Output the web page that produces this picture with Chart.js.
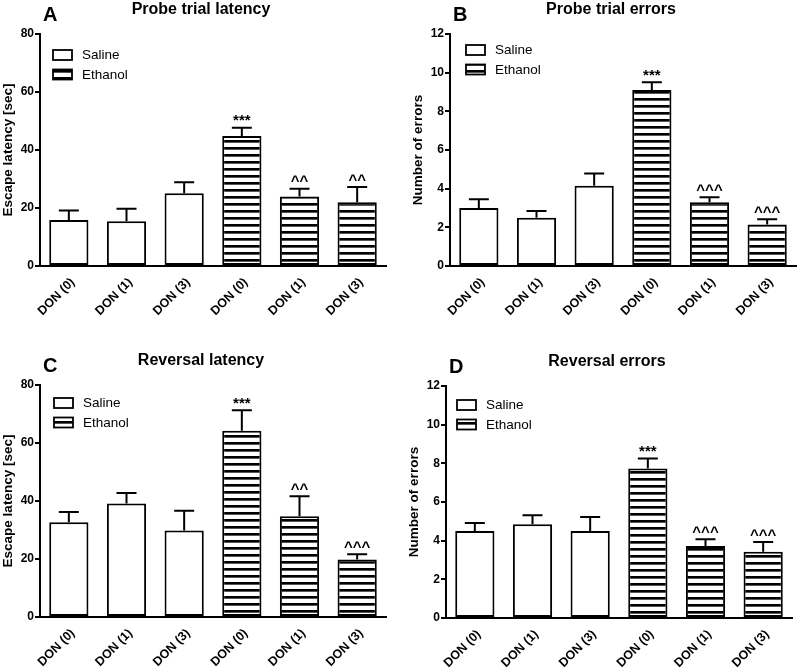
<!DOCTYPE html>
<html>
<head>
<meta charset="utf-8">
<script src="https://cdn.jsdelivr.net/npm/chart.js@4.4.0/dist/chart.umd.min.js"></script>
<style>
  html, body { margin: 0; padding: 0; background: #fff; width: 798px; height: 669px; overflow: hidden; position: relative; }
  canvas { position: absolute; }
</style>
</head>
<body>
<canvas id="panel_a" width="390" height="335" style="left:0px;top:0px"></canvas>
<canvas id="panel_b" width="390" height="335" style="left:410px;top:0px"></canvas>
<canvas id="panel_c" width="390" height="335" style="left:0px;top:351px"></canvas>
<canvas id="panel_d" width="390" height="335" style="left:406px;top:352px"></canvas>
<script>
// data
const categories = ["DON (0)", "DON (1)", "DON (3)", "DON (0)", "DON (1)", "DON (3)"];
const groups = ["Saline", "Saline", "Saline", "Ethanol", "Ethanol", "Ethanol"];

const probe_latency_mean = [15.9, 15.4, 25.1, 44.8, 24.0, 22.0];
const probe_latency_sem = [3.2, 4.3, 3.8, 2.9, 2.6, 5.2];
const probe_latency_marks = ["", "", "", "***", "^^", "^^"];

const probe_errors_mean = [3.0, 2.5, 4.15, 9.1, 3.3, 2.15];
const probe_errors_sem = [0.45, 0.35, 0.63, 0.4, 0.25, 0.27];
const probe_errors_marks = ["", "", "", "***", "^^^", "^^^"];

const reversal_latency_mean = [32.7, 39.1, 29.8, 64.2, 34.7, 19.8];
const reversal_latency_sem = [3.5, 3.7, 6.8, 7.1, 6.9, 1.8];
const reversal_latency_marks = ["", "", "", "***", "^^", "^^^"];

const reversal_errors_mean = [4.5, 4.85, 4.5, 7.73, 3.72, 3.43];
const reversal_errors_sem = [0.41, 0.46, 0.72, 0.52, 0.35, 0.5];
const reversal_errors_marks = ["", "", "", "***", "^^^", "^^^"];

const legend_labels = ["Saline", "Ethanol"];

const FONT = "'Liberation Sans', Arial, sans-serif";

function make_stripes(ctx) {
  const tile = document.createElement("canvas");
  tile.width = 8;
  tile.height = 7;
  const g = tile.getContext("2d");
  g.fillStyle = "#fff";
  g.fillRect(0, 0, 8, 7);
  g.fillStyle = "#000";
  g.fillRect(0, 0, 8, 2);
  g.fillStyle = "#555";
  g.fillRect(0, 2, 8, 1);
  return ctx.createPattern(tile, "repeat");
}

// error bars, significance marks, panel letter, title and legend
const decor = {
  id: "decor",
  afterDatasetsDraw(chart, args, opts) {
    const { ctx, scales: { y } } = chart;
    const meta = chart.getDatasetMeta(0);
    ctx.save();
    ctx.strokeStyle = "#000";
    ctx.fillStyle = "#000";
    ctx.lineWidth = 2;
    opts.means.forEach((m, i) => {
      const bx = meta.data[i].x;
      const y_top = y.getPixelForValue(m);
      const y_err = y.getPixelForValue(m + opts.errors[i]);
      ctx.beginPath();
      ctx.moveTo(bx, y_top);
      ctx.lineTo(bx, y_err);
      ctx.moveTo(bx - 10, y_err);
      ctx.lineTo(bx + 10, y_err);
      ctx.stroke();
      if (opts.marks[i]) {
        ctx.font = "bold 15px " + FONT;
        ctx.textAlign = "center";
        ctx.textBaseline = "alphabetic";
        ctx.fillText(opts.marks[i], bx, y_err - 2.5);
      }
    });

    ctx.textBaseline = "middle";
    ctx.textAlign = "left";
    ctx.font = "bold 20px " + FONT;
    ctx.fillText(opts.letter, 43, 15);
    ctx.textAlign = "center";
    ctx.font = "bold 16px " + FONT;
    ctx.fillText(opts.title, 201, 10);

    const lx = opts.legend_at[0];
    const ly = opts.legend_at[1];
    ctx.font = "13.5px " + FONT;
    ctx.textAlign = "left";
    legend_labels.forEach((label, k) => {
      const by = ly + k * 19.5;
      ctx.fillStyle = k === 0 ? "#fff" : opts.stripes;
      ctx.fillRect(lx, by - 5, 19, 10);
      ctx.lineWidth = 1.8;
      ctx.strokeRect(lx, by - 5, 19, 10);
      ctx.fillStyle = "#000";
      ctx.fillText(label, lx + 29, by + 0.5);
    });
    ctx.restore();
  },
};

function draw_panel(id, cfg) {
  const canvas = document.getElementById(id);
  const ctx = canvas.getContext("2d");
  const stripes = make_stripes(ctx);
  const fills = groups.map((g) => (g === "Saline" ? "#fff" : stripes));

  return new Chart(ctx, {
    type: "bar",
    data: {
      labels: categories,
      datasets: [
        {
          data: cfg.means,
          backgroundColor: fills,
          borderColor: "#000",
          borderWidth: 2,
          borderSkipped: false,
          barPercentage: 0.68,
          categoryPercentage: 1,
        },
      ],
    },
    options: {
      responsive: false,
      animation: false,
      devicePixelRatio: 1,
      layout: { padding: { top: 34, right: 4, left: 0, bottom: 0 } },
      plugins: {
        legend: { display: false },
        tooltip: { enabled: false },
        decor: {
          means: cfg.means,
          errors: cfg.errors,
          marks: cfg.marks,
          letter: cfg.letter,
          title: cfg.title,
          legend_at: cfg.legend_at,
          stripes,
        },
      },
      scales: {
        x: {
          grid: { display: false, drawTicks: false },
          border: { display: true, color: "#000", width: 2 },
          ticks: {
            minRotation: 45,
            maxRotation: 45,
            color: "#000",
            padding: 9,
            labelOffset: 4,
            font: { family: FONT, size: 12.5, weight: "bold" },
          },
          afterFit(scale) {
            scale.height = 69;
          },
        },
        y: {
          min: 0,
          max: cfg.max,
          ticks: {
            stepSize: cfg.step,
            color: "#000",
            padding: 1,
            font: { family: FONT, size: 12, weight: "bold" },
          },
          grid: { display: true, drawOnChartArea: false, tickLength: 5, color: "#000", lineWidth: 2 },
          border: { display: true, color: "#000", width: 2 },
          title: {
            display: true,
            text: cfg.y_title,
            color: "#000",
            padding: 0,
            font: { family: FONT, size: 13.5, weight: "bold" },
          },
          afterFit(scale) {
            scale.width = 40;
          },
        },
      },
    },
    plugins: [decor],
  });
}

draw_panel("panel_a", {
  letter: "A", title: "Probe trial latency", y_title: "Escape latency [sec]",
  max: 80, step: 20, legend_at: [53, 55],
  means: probe_latency_mean, errors: probe_latency_sem, marks: probe_latency_marks,
});
draw_panel("panel_b", {
  letter: "B", title: "Probe trial errors", y_title: "Number of errors",
  max: 12, step: 2, legend_at: [56, 50],
  means: probe_errors_mean, errors: probe_errors_sem, marks: probe_errors_marks,
});
draw_panel("panel_c", {
  letter: "C", title: "Reversal latency", y_title: "Escape latency [sec]",
  max: 80, step: 20, legend_at: [54, 52],
  means: reversal_latency_mean, errors: reversal_latency_sem, marks: reversal_latency_marks,
});
draw_panel("panel_d", {
  letter: "D", title: "Reversal errors", y_title: "Number of errors",
  max: 12, step: 2, legend_at: [51, 53],
  means: reversal_errors_mean, errors: reversal_errors_sem, marks: reversal_errors_marks,
});
</script>
</body>
</html>
